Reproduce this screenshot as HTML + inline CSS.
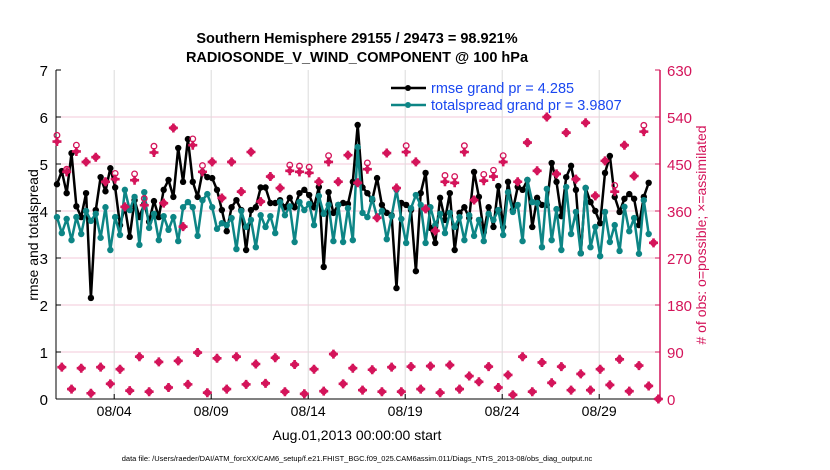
<!DOCTYPE html>
<html><head><meta charset="utf-8"><style>
body{margin:0;background:#fff;}
svg{display:block;font-family:"Liberation Sans",Arial,sans-serif;}
</style></head><body>
<svg id="chart" width="830" height="470" viewBox="0 0 830 470">
<text x="357" y="43" text-anchor="middle" font-size="14.5" font-weight="bold">Southern Hemisphere 29155 / 29473 = 98.921%</text>
<text x="357" y="62" text-anchor="middle" font-size="14.5" font-weight="bold">RADIOSONDE_V_WIND_COMPONENT @ 100 hPa</text>
<g id="grid"></g><g id="axes"></g><g id="series"></g><g id="obs"></g>
<text transform="translate(38,235) rotate(-90)" text-anchor="middle" font-size="14">rmse and totalspread</text>
<text transform="translate(706,235) rotate(-90)" text-anchor="middle" font-size="14" fill="#d4145a"># of obs: o=possible; ×=assimilated</text>
<text x="357" y="440" text-anchor="middle" font-size="14">Aug.01,2013 00:00:00 start</text>
<text x="357" y="461" text-anchor="middle" font-size="7.5">data file: /Users/raeder/DAI/ATM_forcXX/CAM6_setup/f.e21.FHIST_BGC.f09_025.CAM6assim.011/Diags_NTrS_2013-08/obs_diag_output.nc</text>
<g>
<line x1="391" y1="88" x2="426" y2="88" stroke="#000" stroke-width="2.5"/>
<circle cx="408" cy="88" r="3" fill="#000"/>
<text x="431" y="93" font-size="14.5" fill="#1a47f0">rmse grand pr = 4.285</text>
<line x1="391" y1="105" x2="426" y2="105" stroke="#0d8585" stroke-width="2.5"/>
<circle cx="408" cy="105" r="3" fill="#0d8585"/>
<text x="431" y="110" font-size="14.5" fill="#1a47f0">totalspread grand pr = 3.9807</text>
</g>
</svg>
<script>
const rmse=[4.57,4.85,4.38,5.23,4.1,3.87,4.38,2.15,4.02,4.72,4.42,4.91,4.5,3.7,4.08,3.45,4.23,3.87,4.15,3.77,4.21,3.87,4.45,4.66,4.3,5.34,4.62,5.53,4.62,4.3,4.83,4.72,
4.7,4.45,4.02,3.57,4.08,4.23,4.02,3.17,4.02,4.08,4.5,4.5,4.17,4.17,4.23,4.08,4.28,4.08,4.38,4.45,4.34,4.08,4.51,2.81,4.4,3.96,4.13,4.17,4.15,4.62,5.83,
4.5,4.38,4.23,4.7,4.13,3.96,3.91,2.36,4.17,4.13,4.02,2.72,4.38,4.81,3.64,3.32,4.28,3.81,4.38,3.17,3.96,4.08,3.85,4.83,4.3,3.55,4.08,3.66,4.53,3.66,
4.62,4.02,4.51,4.45,4.66,3.66,4.28,4.13,4.13,5.02,4.62,3.89,4.72,4.96,4.45,3.1,4.49,4.19,4.0,3.74,4.81,5.17,4.3,3.98,4.26,4.36,4.26,3.7,4.3,4.6];
const spread=[3.87,3.53,3.83,3.38,3.87,3.51,4.0,3.79,3.94,3.43,4.08,3.17,3.87,3.49,4.45,4.02,4.3,3.28,4.4,3.64,3.94,3.38,3.89,3.6,3.87,3.36,4.08,4.19,4.08,3.47,4.23,4.36,
4.08,3.62,3.74,3.7,3.85,3.19,4.0,3.66,3.81,3.23,3.91,3.66,3.89,3.53,4.19,3.91,4.1,3.34,4.19,4.02,4.15,3.7,4.32,3.94,4.13,3.36,4.13,3.34,4.06,3.38,5.36,
3.96,3.87,4.26,3.87,4.0,3.4,3.89,4.45,3.83,3.32,4.06,4.34,4.13,3.32,4.08,3.7,3.94,3.53,3.96,3.66,3.87,3.38,3.91,3.47,3.81,3.36,3.94,3.81,4.02,3.49,
4.4,3.98,4.13,3.36,4.66,4.19,4.17,3.23,4.47,3.38,4.04,3.17,4.51,3.51,3.98,3.1,4.49,3.23,3.66,3.04,3.98,3.34,3.7,3.15,4.09,3.57,3.85,3.09,4.23,3.51];
const nUsed=[493,61,435,19,474,59,454,11,463,61,416,29,421,57,368,16,419,81,371,14,472,71,375,22,519,73,330,28,486,89,435,12,
454,78,385,19,454,81,397,28,473,67,378,30,426,79,404,14,437,66,435,10,433,57,416,15,454,86,416,29,467,59,414,
17,440,56,347,14,471,61,404,14,473,62,454,19,364,63,322,12,416,65,414,19,473,44,381,33,418,62,426,22,454,46,
8,416,81,491,14,437,70,540,31,431,62,510,17,421,48,529,17,389,57,456,27,397,76,486,15,427,64,512,25,299,0];
const nPoss=[505,61,440,19,486,59,454,11,463,61,416,29,432,57,368,16,431,81,384,14,484,71,375,22,519,73,330,28,498,89,447,12,
454,78,385,19,454,81,397,28,473,67,378,30,426,79,404,14,448,66,446,10,444,57,416,15,466,86,416,29,467,59,414,
17,452,56,347,14,471,61,404,14,485,62,454,19,364,63,322,12,428,65,426,19,485,44,381,33,430,62,438,22,466,46,
8,416,81,491,14,437,70,540,31,431,62,510,17,421,48,529,17,389,57,456,27,409,76,486,15,427,64,524,25,299,0];
const yTicks=[0,1,2,3,4,5,6,7];
const yRightTicks=[0,90,180,270,360,450,540,630];
const xTickDays=[3,8,13,18,23,28];
const xTickLabels=['08/04','08/09','08/14','08/19','08/24','08/29'];
const stepDays=0.25, startDay=0.05;

const X0=56,X1=660,Y0=399,Y1=70,PXD=19.4;
const xs=d=>X0+d*PXD;
const ys=v=>Y0-(v/7)*(Y0-Y1);
const yr=v=>Y0-(v/630)*(Y0-Y1);
const NS='http://www.w3.org/2000/svg';
function mk(tag,attrs,parent){const e=document.createElementNS(NS,tag);for(const k in attrs)e.setAttribute(k,attrs[k]);parent.appendChild(e);return e;}
const grid=document.getElementById('grid'),axes=document.getElementById('axes'),series=document.getElementById('series'),obs=document.getElementById('obs');

yTicks.forEach(v=>{
  if(v>0&&v<7){const l=mk('line',{x1:X0,x2:X1,y1:ys(v),y2:ys(v),stroke:'#f3c9d8','stroke-width':1},grid);
  
  }
  const t=mk('line',{x1:X0,x2:X0+5,y1:ys(v),y2:ys(v),stroke:'#000'},axes);
  
  
  const tx=mk('text',{x:X0-8,y:ys(v)+6,'text-anchor':'end','font-size':15},axes);tx.textContent=v;
  
  
});
yRightTicks.forEach(v=>{
  const t=mk('line',{x1:X1-5,x2:X1,y1:yr(v),y2:yr(v),stroke:'#d4145a'},axes);
  
  
  const tx=mk('text',{x:X1+7,y:yr(v)+6,'font-size':15,fill:'#d4145a'},axes);tx.textContent=v;
  
  
});
xTickDays.forEach((d,i)=>{
  const g=mk('line',{x1:xs(d),x2:xs(d),y1:Y1,y2:Y0,stroke:'#dcdcdc'},grid);
  
  
  const t=mk('line',{x1:xs(d),x2:xs(d),y1:Y0-5,y2:Y0,stroke:'#000'},axes);
  
  
  const tx=mk('text',{x:xs(d),y:Y0+17,'text-anchor':'middle','font-size':14},axes);tx.textContent=xTickLabels[i];
  
  
});
const la=mk('line',{x1:X0,x2:X0,y1:Y1,y2:Y0,stroke:'#000'},axes);


const ba=mk('line',{x1:X0,x2:X1,y1:Y0,y2:Y0,stroke:'#000'},axes);


const ra=mk('line',{x1:X1,x2:X1,y1:Y1,y2:Y0,stroke:'#d4145a','stroke-width':1.5},axes);



function drawSeries(arr,color,name){
  const pts=arr.map((v,i)=>xs(startDay+i*stepDays).toFixed(1)+','+ys(v).toFixed(1)).join(' ');
  const pl=mk('polyline',{points:pts,fill:'none',stroke:color,'stroke-width':2.5,'stroke-linejoin':'round'},series);
  
  
  arr.forEach((v,i)=>{const c=mk('circle',{cx:xs(startDay+i*stepDays),cy:ys(v),r:3.2,fill:color},series);
    
    });
}
drawSeries(rmse,'#000','rmse');
drawSeries(spread,'#0d8585','totalspread');

nPoss.forEach((v,i)=>{
  const c=mk('circle',{cx:xs(startDay+i*stepDays),cy:yr(v),r:2.8,fill:'none',stroke:'#d4145a','stroke-width':1.3},obs);
  
  
});
nUsed.forEach((v,i)=>{
  const x=xs(startDay+i*stepDays),y=yr(v);
  const p=mk('path',{d:`M${x-4.5},${y}L${x+4.5},${y}M${x},${y-4.5}L${x},${y+4.5}`,stroke:'#d4145a','stroke-width':2.6},obs);
  
  
  const c=mk('circle',{cx:x,cy:y,r:2.8,fill:'#d4145a'},obs);
  
  
});
</script>
</body></html>
